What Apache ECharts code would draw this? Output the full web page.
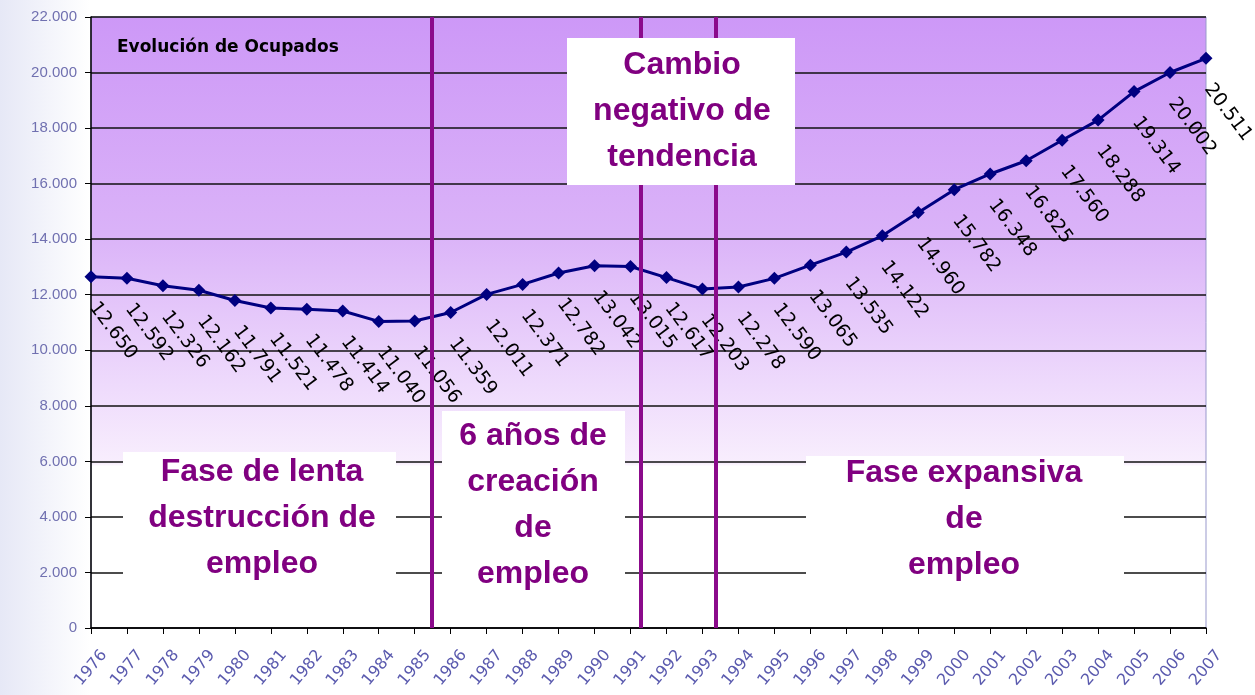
<!DOCTYPE html>
<html>
<head>
<meta charset="utf-8">
<title>Evolución de Ocupados</title>
<script src="https://cdn.jsdelivr.net/npm/echarts@6/dist/echarts.min.js"></script>
<style>
  html, body { margin: 0; padding: 0; background: #fff; }
  #chart { width: 1255px; height: 695px; }
</style>
</head>
<body>
<div id="chart"></div>
<script>
// años y ocupados (miles)
const anios = ['1976', '1977', '1978', '1979', '1980', '1981', '1982', '1983', '1984', '1985',
  '1986', '1987', '1988', '1989', '1990', '1991', '1992', '1993', '1994', '1995', '1996',
  '1997', '1998', '1999', '2000', '2001', '2002', '2003', '2004', '2005', '2006', '2007'];
const ocupados = [12650, 12592, 12326, 12162, 11791, 11521, 11478, 11414, 11040, 11056,
  11359, 12011, 12371, 12782, 13042, 13015, 12617, 12203, 12278, 12590, 13065,
  13535, 14122, 14960, 15782, 16348, 16825, 17560, 18288, 19314, 20002, 20511];
// cortes de fase (posición en años)
const cortes = [1985.48, 1991.29, 1993.38];
const yMax = 22000;
const yPaso = 2000;

const miles = v => String(v).replace(/\B(?=(\d{3})+(?!\d))/g, '.');

const morado = '#800080';
const fuenteCaja = 'bold 32px "Liberation Sans", Arial, sans-serif';

function caja(x, y, w, h, texto, cx, cy) {
  return {
    type: 'group',
    children: [
      { type: 'rect', z: 100, shape: { x: x, y: y, width: w, height: h }, style: { fill: '#fff' } },
      {
        type: 'text', z: 101, x: cx, y: cy,
        style: { text: texto, font: fuenteCaja, fill: morado, align: 'center', verticalAlign: 'middle', lineHeight: 46 }
      }
    ]
  };
}

let chart = echarts.init(document.getElementById('chart'));

const option = {
  animation: false,
  title: {
    text: 'Evolución de Ocupados',
    left: 112, top: 34,
    textStyle: { fontFamily: 'DejaVu Sans', fontWeight: 'bold', fontSize: 17, color: '#000' }
  },
  grid: {
    left: 91, right: 49, top: 17, bottom: 67,
    show: true,
    borderColor: '#9999cc',
    borderWidth: 1,
    backgroundColor: {
      type: 'linear', x: 0, y: 0, x2: 0, y2: 1,
      colorStops: [
        { offset: 0, color: '#cd98f7' },
        { offset: 0.35, color: '#dab2f8' },
        { offset: 0.6, color: '#eedafc' },
        { offset: 0.73, color: '#f8eefd' },
        { offset: 0.735, color: '#ffffff' },
        { offset: 1, color: '#ffffff' }
      ]
    }
  },
  graphic: [
    {
      type: 'rect', z: -10, silent: true,
      shape: { x: 0, y: 0, width: 90, height: 695 },
      style: {
        fill: {
          type: 'linear', x: 0, y: 0, x2: 1, y2: 0,
          colorStops: [{ offset: 0, color: '#e6e8f6' }, { offset: 1, color: '#ffffff' }]
        }
      }
    },
    caja(123, 452, 273, 150, 'Fase de lenta\ndestrucción de\nempleo', 262, 518),
    caja(442, 411, 183, 190, '6 años de\ncreación\nde\nempleo', 533, 505),
    caja(567, 38, 228, 147, 'Cambio\nnegativo de\ntendencia', 682, 111),
    caja(806, 456, 318, 145, 'Fase expansiva\nde\nempleo', 964, 519)
  ],
  xAxis: [
    {
      type: 'category',
      data: anios,
      boundaryGap: false,
      axisLine: { lineStyle: { color: '#000', width: 1.5 } },
      axisTick: { show: true, length: 6, lineStyle: { color: '#000' } },
      axisLabel: {
        interval: 0,
        rotate: 50,
        align: 'center',
        verticalAlign: 'middle',
        margin: 40,
        color: '#5a5aae',
        fontFamily: 'DejaVu Sans',
        fontSize: 16
      },
      splitLine: { show: false }
    },
    {
      type: 'value',
      min: 1976, max: 2007,
      show: false
    }
  ],
  yAxis: {
    type: 'value',
    min: 0, max: yMax, interval: yPaso,
    axisLine: { show: true, lineStyle: { color: '#000', width: 1.5 } },
    axisTick: { show: true, length: 6, lineStyle: { color: '#000' } },
    axisLabel: {
      margin: 14,
      color: '#7070b0',
      fontFamily: 'Liberation Sans',
      fontSize: 15,
      formatter: v => miles(v)
    },
    splitLine: { lineStyle: { color: '#111', width: 1.5 } }
  },
  series: [
    {
      name: 'Ocupados',
      type: 'line',
      data: ocupados,
      symbol: 'diamond',
      symbolSize: 13,
      lineStyle: { color: '#000080', width: 3 },
      itemStyle: { color: '#000080' },
      label: {
        show: true,
        position: [8.5, 34],
        rotate: -53,
        align: 'left',
        verticalAlign: 'middle',
        color: '#000',
        fontFamily: 'DejaVu Sans',
        fontSize: 19,
        formatter: p => miles(p.value)
      },
      z: 3
    },
    {
      name: 'cortes',
      type: 'line',
      xAxisIndex: 1,
      data: [],
      z: 10,
      markLine: {
        silent: true,
        symbol: 'none',
        label: { show: false },
        lineStyle: { color: '#8b0a8b', width: 4, type: 'solid' },
        data: cortes.map(c => ({ xAxis: c }))
      }
    }
  ]
};

chart.setOption(option);
</script>
</body>
</html>
